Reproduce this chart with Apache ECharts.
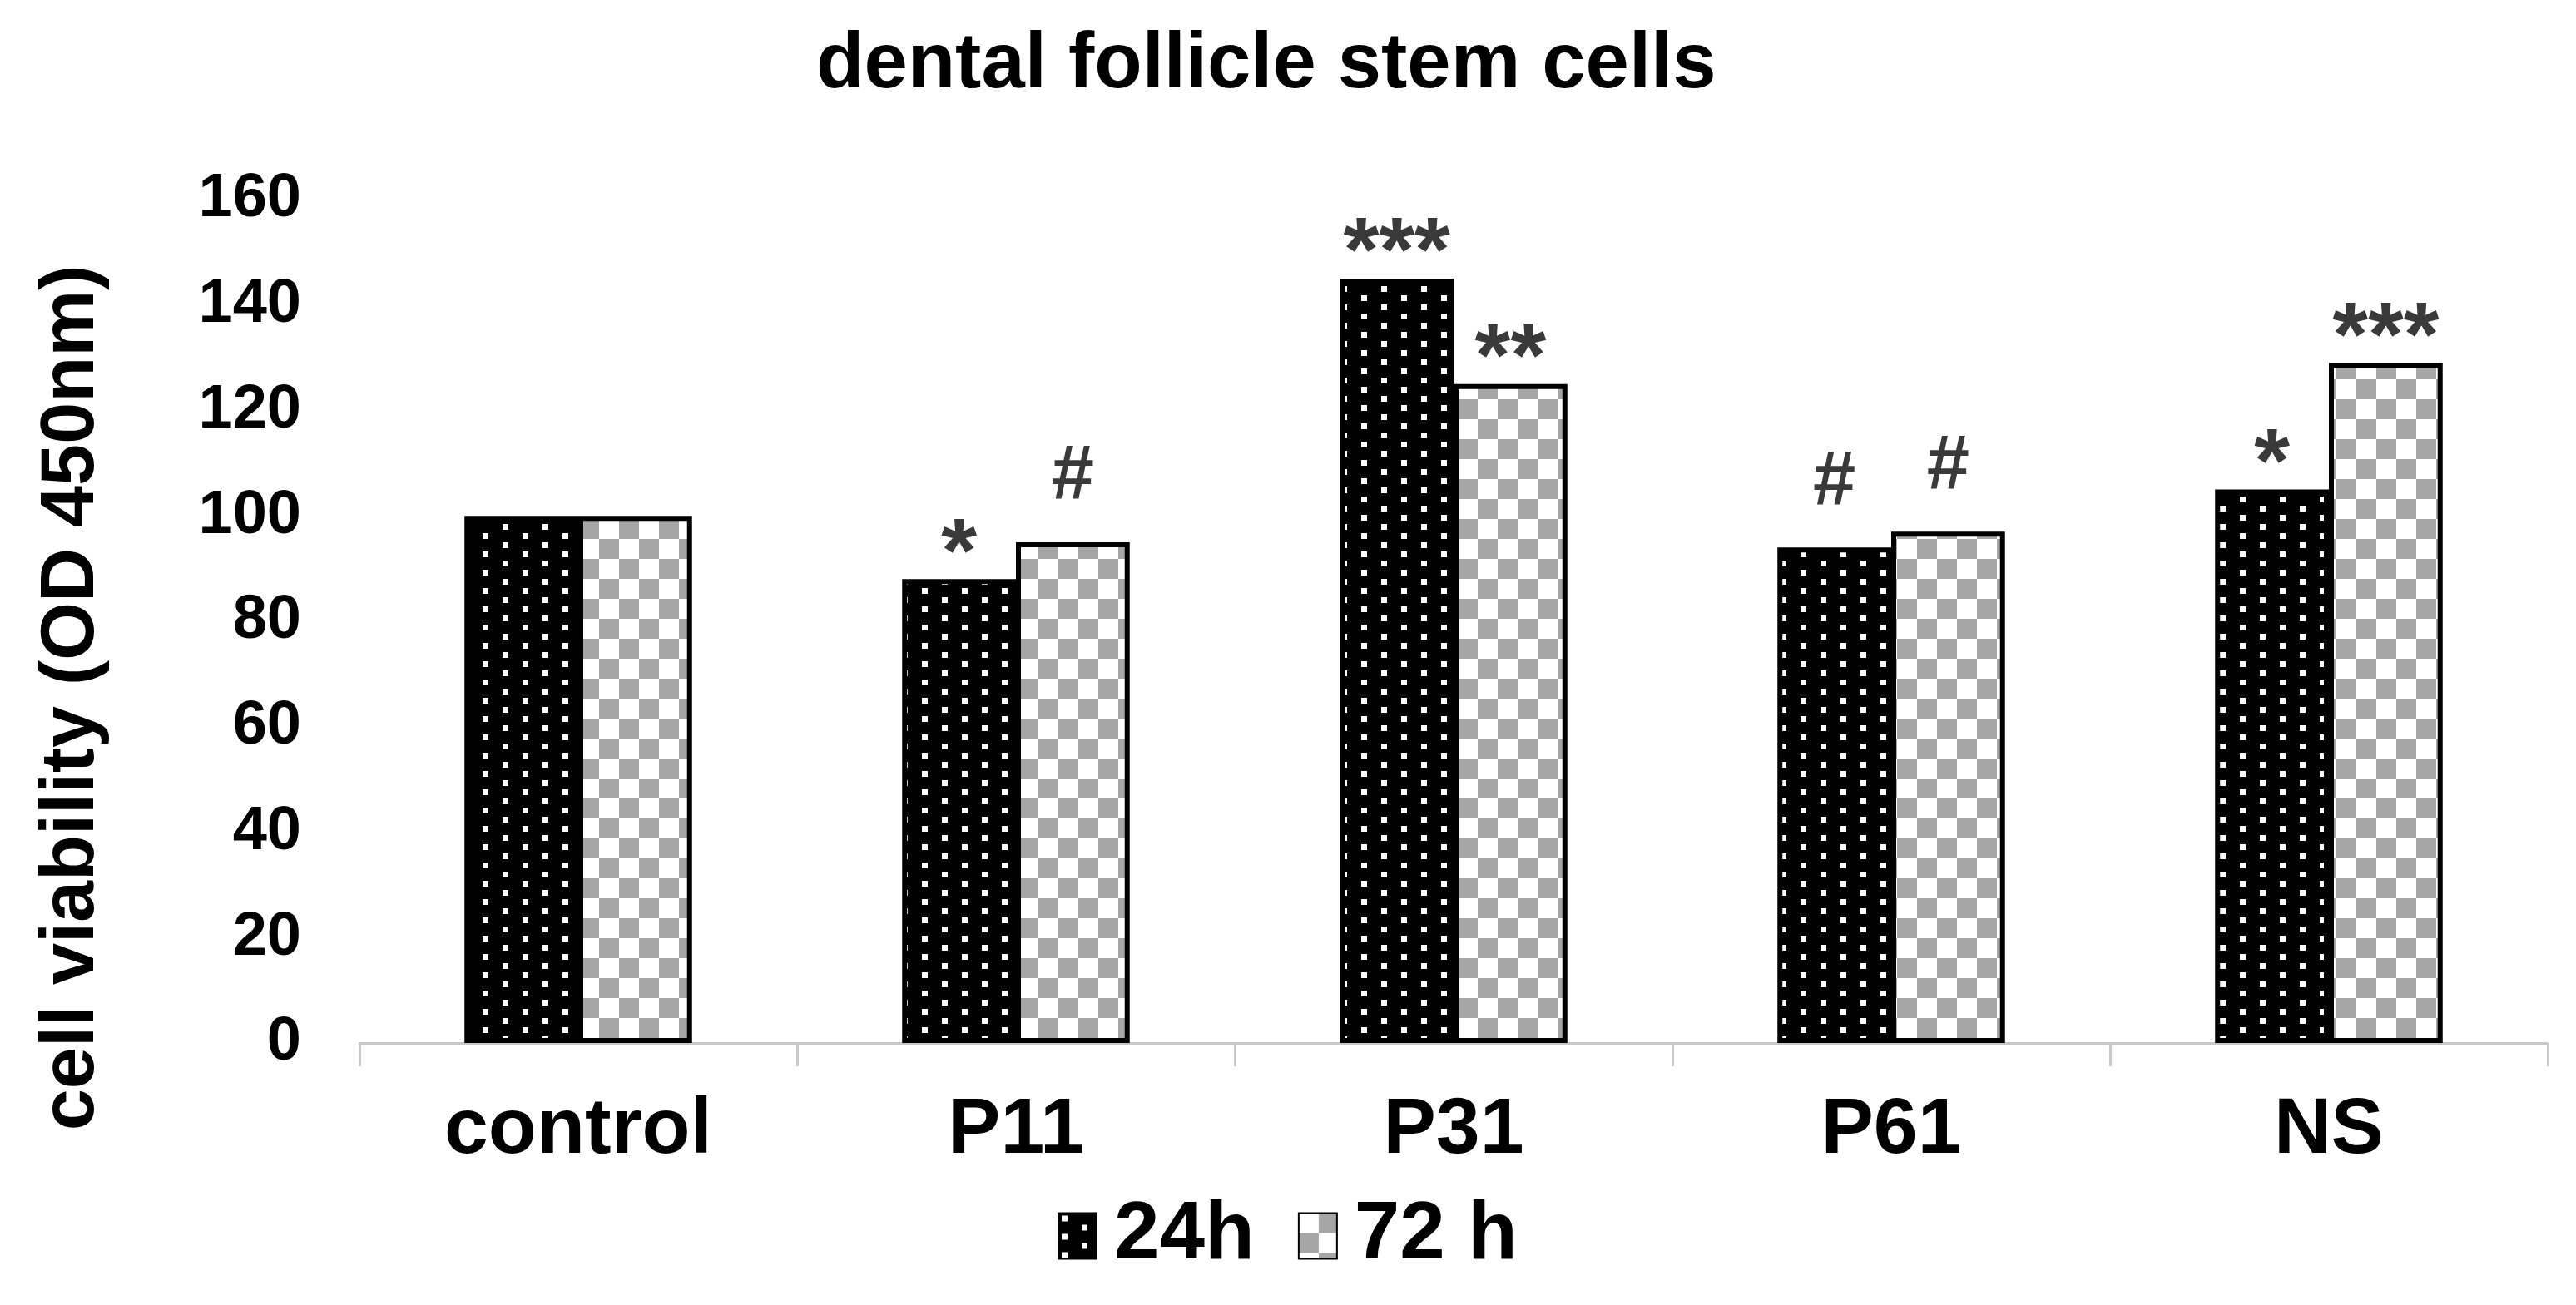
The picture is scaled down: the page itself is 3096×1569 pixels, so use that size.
<!DOCTYPE html>
<html>
<head>
<meta charset="utf-8">
<script src="https://cdn.jsdelivr.net/npm/echarts@6/dist/echarts.min.js"></script>
<style>
html,body{margin:0;padding:0;background:#fff;}
#chart{width:3096px;height:1569px;}
</style>
</head>
<body>
<div id="chart"></div>
<script>
// ---- data ----
const titleText = 'dental follicle stem cells';
const yAxisTitle = 'cell viability (OD 450nm)';
const categories = ['control', 'P11', 'P31', 'P61', 'NS'];
const seriesNames = ['24h', '72 h'];
const values24h = [100, 88, 145, 94, 105];
const values72h = [100, 95, 125, 97, 129];
const marks24h = ['', '*', '***', '#', '*'];
const marks72h = ['', '#', '**', '#', '***'];
const yMin = 0, yMax = 160, yStep = 20;

// ---- patterns (tiles sized in CSS px, drawn at device resolution) ----
const DPR = window.devicePixelRatio || 1;
function makeTile(w, h, draw) {
  const c = document.createElement('canvas');
  c.width = Math.round(w * DPR); c.height = Math.round(h * DPR);
  const g = c.getContext('2d');
  g.scale(DPR, DPR);
  draw(g);
  return c;
}
const fillDots = {
  image: makeTile(48, 22, g => {
    g.fillStyle = '#000'; g.fillRect(0, 0, 48, 22);
    g.fillStyle = '#fff';
    g.fillRect(4, 3, 7, 7);
    g.fillRect(28, 14, 7, 7);
  }),
  repeat: 'repeat'
};
const fillChecker = {
  image: makeTile(48, 48, g => {
    g.fillStyle = '#fff'; g.fillRect(0, 0, 48, 48);
    g.fillStyle = '#a6a6a6';
    g.fillRect(24, 0, 24, 24);
    g.fillRect(0, 24, 24, 24);
  }),
  repeat: 'repeat'
};

const FONT = "'Liberation Sans', Arial, sans-serif";

function buildData(vals, marks) {
  return vals.map((v, i) => {
    const m = marks[i];
    const isHash = m.indexOf('#') >= 0;
    return {
      value: v,
      label: {
        show: m !== '',
        distance: isHash ? 32 : -27,
        fontSize: isHash ? 92 : 110
      }
    };
  });
}

function makeSeries(name, vals, marks, fill) {
  return {
    name: name,
    type: 'bar',
    barWidth: '26%',
    barGap: '0%',
    data: buildData(vals, marks),
    itemStyle: { color: fill, borderColor: '#000', borderWidth: 6 },
    label: {
      position: 'top',
      color: '#3a3a3a',
      fontFamily: FONT,
      fontWeight: 'bold',
      fontSize: 92,
      formatter: p => marks[p.dataIndex]
    },
    emphasis: { disabled: true }
  };
}

const chart = echarts.init(document.getElementById('chart'), null, { renderer: 'canvas' });
chart.setOption({
  backgroundColor: '#fff',
  animation: false,
  title: {
    text: titleText,
    left: 976,
    top: 27,
    padding: 5,
    textStyle: { fontFamily: FONT, fontWeight: 'bold', fontSize: 94, color: '#000' }
  },
  legend: {
    data: seriesNames,
    left: 1266,
    top: 1432,
    icon: 'rect',
    itemWidth: 46,
    itemHeight: 55,
    itemGap: 52,
    textStyle: { fontFamily: FONT, fontWeight: 'bold', fontSize: 98, color: '#000', padding: [0, 0, 0, 16] }
  },
  grid: { left: 432, right: 34, top: 240, bottom: 315, containLabel: false },
  xAxis: {
    type: 'category',
    data: categories,
    axisLine: { lineStyle: { color: '#c8c8c8', width: 3 } },
    axisTick: { show: true, length: 28, lineStyle: { color: '#c8c8c8', width: 3 } },
    axisLabel: { margin: 58, fontFamily: FONT, fontWeight: 'bold', fontSize: 95, color: '#000' }
  },
  yAxis: {
    type: 'value',
    min: yMin, max: yMax, interval: yStep,
    axisLine: { show: false },
    axisTick: { show: false },
    splitLine: { show: false },
    axisLabel: { margin: 70, padding: [8, 0, 0, 0], fontFamily: FONT, fontWeight: 'bold', fontSize: 74, color: '#000' }
  },
  graphic: [{
    type: 'text',
    x: 87, y: 839,
    rotation: Math.PI / 2,
    style: {
      text: yAxisTitle,
      fontFamily: FONT, fontWeight: 'bold', fontSize: 90, fill: '#000',
      align: 'center', verticalAlign: 'middle'
    }
  }],
  series: [
    makeSeries(seriesNames[0], values24h, marks24h, fillDots),
    makeSeries(seriesNames[1], values72h, marks72h, fillChecker)
  ]
});
</script>
</body>
</html>
